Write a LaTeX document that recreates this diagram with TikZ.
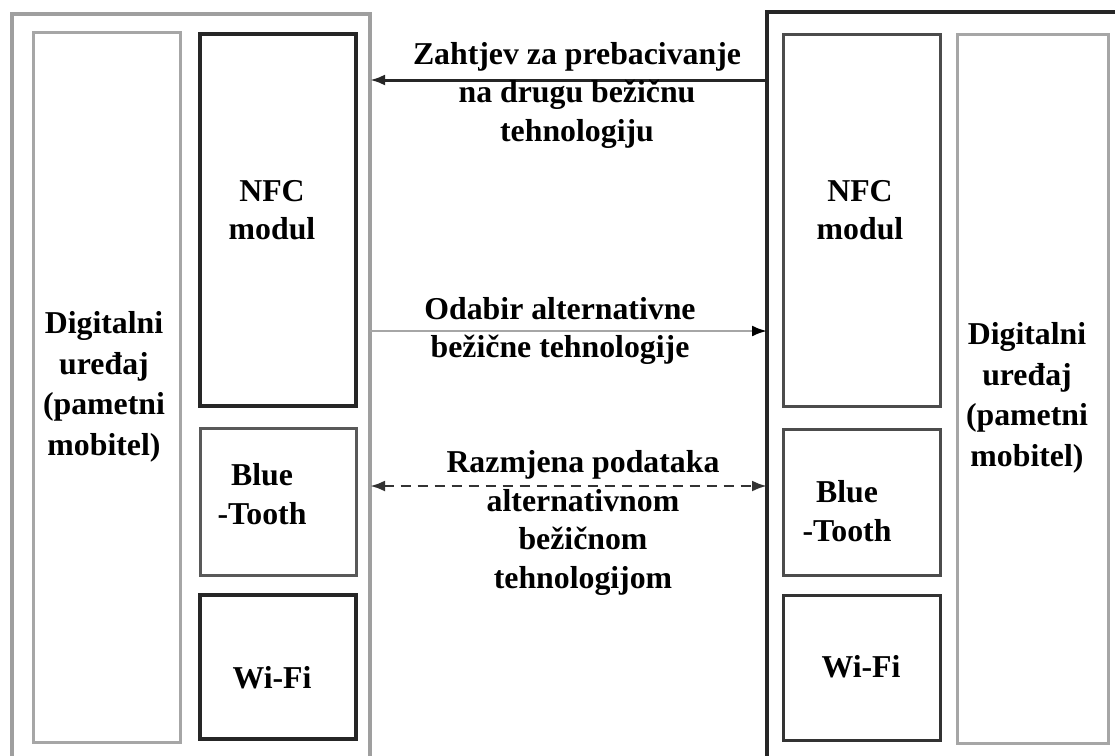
\documentclass[tikz,border=0pt]{standalone}
\usepackage{fontspec}
\setmainfont{Liberation Serif}
\usetikzlibrary{arrows.meta}
\begin{document}
\begin{tikzpicture}[x=1pt,y=-1pt,
  >={Latex[length=15pt,width=11pt]},
  box/.style={draw, inner sep=0pt, outer sep=0pt, fill=none},
  lbl/.style={align=center, inner sep=0pt, font=\fontsize{31.8}{38.5}\selectfont\bfseries},
  dev/.style={align=center, inner sep=0pt, font=\fontsize{31.8}{40.5}\selectfont\bfseries},
]
\clip (0,0) rectangle (1115,755);
\fill[white] (0,0) rectangle (1115,755);
% left device
\node[box, draw=gray!75, line width=3.5pt, minimum width=358pt, minimum height=761pt] (lout) at (191,394.5) {};
\node[box, draw=gray!70, line width=3pt, minimum width=147pt, minimum height=710pt] (lcol) at (106.5,387) {};
\node[box, draw=black!85, line width=3.5pt, minimum width=156pt, minimum height=372pt] (lnfc) at (278,220) {};
\node[box, draw=gray!70!black, line width=3pt, minimum width=156pt, minimum height=147pt] (lbt) at (278,501.5) {};
\node[box, draw=black!85, line width=3.2pt, minimum width=156pt, minimum height=144pt] (lwifi) at (278,667) {};
% right device
\node[box, draw=black!85, line width=3.5pt, minimum width=368pt, minimum height=763pt] (rout) at (951,393.5) {};
\node[box, draw=gray!60!black, line width=3pt, minimum width=157pt, minimum height=372pt] (rnfc) at (861.5,220) {};
\node[box, draw=gray!60!black, line width=3pt, minimum width=157pt, minimum height=146pt] (rbt) at (861.5,502) {};
\node[box, draw=gray!40!black, line width=3pt, minimum width=157pt, minimum height=145pt] (rwifi) at (861.5,667.5) {};
\node[box, draw=gray!70, line width=3pt, minimum width=151pt, minimum height=709pt] (rcol) at (1032.5,388.5) {};
% box labels
\node[lbl] (lnfct) at (272,210) {NFC\\modul};
\node[lbl] (rnfct) at (860,210) {NFC\\modul};
\node[dev] (ldev) at (104,387) {Digitalni\\uređaj\\(pametni\\mobitel)};
\node[dev] (rdev) at (1027,398) {Digitalni\\uređaj\\(pametni\\mobitel)};
\node[lbl] (lbtt) at (262,494) {Blue\\-Tooth};
\node[lbl] (rbtt) at (847,511) {Blue\\-Tooth};
\node[lbl] (lwft) at (272,678) {Wi-Fi};
\node[lbl] (rwft) at (861,667) {Wi-Fi};
% arrows
\coordinate (y1) at (0,80);
\coordinate (y2) at (0,331);
\coordinate (y3) at (0,486);
\draw[->, line width=3pt, black!85] (rout.west |- y1) -- (lout.east |- y1);
\draw[line width=2.4pt, gray!70, -{Latex[length=15pt,width=11pt,fill=black,color=black]}] (lout.east |- y2) -- (rout.west |- y2);
\draw[<->, line width=2.8pt, gray!40!black, dash pattern=on 10pt off 7pt] (lout.east |- y3) -- (rout.west |- y3);
% arrow labels
\node[lbl] (t1) at (577,95) {Zahtjev za prebacivanje\\na drugu bežičnu\\tehnologiju};
\node[lbl] (t2) at (560,331) {Odabir alternativne\\bežične tehnologije};
\node[lbl] (t3) at (583,523) {Razmjena podataka\\alternativnom\\bežičnom\\tehnologijom};
\end{tikzpicture}
\end{document}
